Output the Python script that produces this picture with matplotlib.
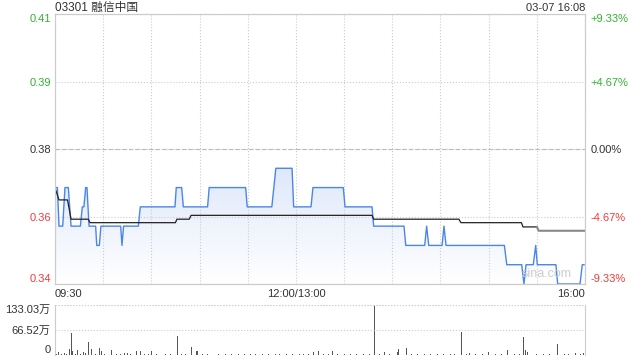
import numpy as np
import matplotlib.pyplot as plt
from matplotlib.colors import LinearSegmentedColormap

plt.rcParams['font.family'] = ['Liberation Sans', 'Noto Sans CJK SC']

# price line (minutes since 09:30, lunch break removed)
price_t = [0, 1.5, 2.5, 4.8, 6.2, 8.3, 10, 15.8, 17, 18, 19.1, 19.9, 21.2, 25.3, 26, 27.6, 28.6,
           40.9, 41.7, 42.7, 51.9, 53.1, 74.7, 75.5, 78.9, 79.9, 95, 96, 118.7, 119.7, 135, 137.5,
           147.6, 148.6, 159.4, 160.6, 179.5, 180.6, 197.4, 198.4, 217.3, 218.4, 230.2, 231.4, 232.7,
           241, 242.2, 243.5, 279.8, 281.3, 290.6, 292, 293.3, 297.8, 299.3, 300.3, 311.9, 313,
           326.9, 328.3, 329.4]
price_v = [0.365, 0.365, 0.355, 0.355, 0.365, 0.365, 0.355, 0.355, 0.36, 0.36, 0.365, 0.365, 0.355,
           0.355, 0.35, 0.35, 0.355, 0.355, 0.35, 0.355, 0.355, 0.36, 0.36, 0.365, 0.365, 0.36,
           0.36, 0.365, 0.365, 0.36, 0.36, 0.37, 0.37, 0.36, 0.36, 0.365, 0.365, 0.36, 0.36, 0.355,
           0.355, 0.35, 0.35, 0.355, 0.35, 0.35, 0.355, 0.35, 0.35, 0.345, 0.345, 0.34, 0.345,
           0.345, 0.35, 0.345, 0.345, 0.34, 0.34, 0.345, 0.345]

# average price line
avg_t = [0, 2.5, 7.8, 10, 20.7, 21.8, 75, 75.9, 83.6, 84.7, 197.4, 198.4, 251.5, 252.7,
         290.4, 291.4, 300]
avg_v = [0.3649, 0.3618, 0.3618, 0.3568, 0.3568, 0.3559, 0.3559, 0.3568, 0.3568, 0.3578,
         0.3578, 0.3568, 0.3568, 0.3559, 0.3559, 0.3548, 0.3548]
avg_late_t = [300, 301.2, 329.4]
avg_late_v = [0.3548, 0.3538, 0.3538]

# volume (万)
vol_t = [0, 2, 9, 10, 11, 14, 18, 21, 23, 28, 29, 33, 35, 45, 51, 53, 60, 76, 85, 88, 89,
         161, 164, 173, 199, 205, 213, 214, 219, 253, 258, 270, 282, 292, 293, 294, 313, 329, 330]
vol_v = [11, 7, 16, 57, 10, 13, 7, 34, 15, 18, 10, 13, 13, 6, 11, 11, 10, 51, 21, 10, 10,
         7, 10, 10, 133.03, 7, 8, 16, 18, 61, 5, 8, 13, 48, 13, 8, 29, 6, 8]
small_t = [1, 4, 6, 7, 13, 16, 19, 25, 31, 38, 41, 43, 47, 56, 58, 63, 66, 69, 72, 79, 81, 92,
           95, 99, 102, 106, 110, 114, 118, 122, 125, 129, 133, 137, 140, 144, 148, 152, 155,
           158, 167, 170, 176, 180, 184, 188, 192, 196, 202, 208, 222, 226, 230, 234, 238, 242,
           246, 249, 256, 262, 266, 274, 278, 286, 289, 297, 300, 304, 308, 317, 320, 324, 327]
small_v = [3, 2, 4, 2, 3, 2, 4, 3, 2, 3, 2, 4, 2, 3, 2, 2, 3, 2, 2, 3, 2, 2, 3, 2, 2, 3, 2,
           2, 3, 2, 2, 2, 3, 2, 2, 2, 3, 2, 2, 3, 2, 3, 2, 2, 3, 2, 2, 3, 2, 2, 3, 2, 2, 3,
           2, 2, 3, 2, 3, 2, 3, 2, 3, 2, 2, 3, 2, 3, 2, 3, 2, 4, 3]

prev_close = 0.375
yticks = [0.34, 0.3575, 0.375, 0.3925, 0.41]
ylabels = ['0.34', '0.36', '0.38', '0.39', '0.41']
pct_labels = ['-9.33%', '-4.67%', '0.00%', '+4.67%', '+9.33%']
tick_colors = ['#f23a3a', '#f23a3a', '#333333', '#2fb52f', '#2fb52f']

grid_c = '#cccccc'
fig = plt.figure(figsize=(6.4, 3.6), dpi=100)
ax = fig.add_axes([55 / 640, 76 / 360, 530 / 640, 270 / 360])

# gradient fill under price
poly = ax.fill_between(price_t, price_v, 0.34, color='none', lw=0)
cmap = LinearSegmentedColormap.from_list('g', ['#ffffff', '#dfe8fa'])
grad = np.linspace(0, 1, 256).reshape(-1, 1)
img = ax.imshow(grad, extent=[0, 330, 0.34, 0.37], origin='lower', aspect='auto', cmap=cmap, zorder=1)
img.set_clip_path(poly.get_paths()[0], transform=ax.transData)

ax.plot(price_t, price_v, color='#4a86e8', lw=1, zorder=3)
ax.plot(avg_t, avg_v, color='#222222', lw=0.9, zorder=3)
ax.plot(avg_late_t, avg_late_v, color='#888888', lw=1.5, zorder=3)

ax.set_xlim(0, 330)
ax.set_ylim(0.34, 0.41)
ax.set_xticks(np.arange(0, 331, 30))
ax.set_xticklabels([])
ax.set_yticks(yticks)
ax.set_yticklabels(ylabels)
ax.tick_params(length=0, labelsize=8, pad=3)
for lab, c in zip(ax.get_yticklabels(), tick_colors):
    lab.set_color(c)
ax.get_yticklabels()[0].set_va('bottom')
ax.get_yticklabels()[-1].set_va('top')
ax.grid(True, color=grid_c, ls=':', lw=0.8)
ax.axhline(prev_close, color='#bbbbbb', ls=(0, (4, 2)), lw=0.8, zorder=2)
for s in ax.spines.values():
    s.set_color(grid_c)

ax_r = ax.twinx()
ax_r.set_ylim(0.34, 0.41)
ax_r.set_yticks(yticks)
ax_r.set_yticklabels(pct_labels)
ax_r.tick_params(length=0, labelsize=8, pad=4)
for lab, c in zip(ax_r.get_yticklabels(), tick_colors):
    lab.set_color(c)
ax_r.get_yticklabels()[0].set_va('bottom')
ax_r.get_yticklabels()[-1].set_va('top')
for s in ax_r.spines.values():
    s.set_color(grid_c)

ax.text(0, -0.02, '09:30', transform=ax.transAxes, ha='left', va='top', fontsize=8, color='#333')
ax.text(150 / 330, -0.02, '12:00/13:00', transform=ax.transAxes, ha='center', va='top', fontsize=8, color='#333')
ax.text(1, -0.02, '16:00', transform=ax.transAxes, ha='right', va='top', fontsize=8, color='#333')
ax.text(0, 1 + 3 / 270, '03301 融信中国', transform=ax.transAxes, ha='left', va='baseline',
        fontsize=8.5, color='#333')
ax.text(1, 1 + 3 / 270, '03-07 16:08', transform=ax.transAxes, ha='right', va='baseline',
        fontsize=8, color='#333')
ax.text(0.975, 0.015, 'sina.com', transform=ax.transAxes, ha='right', va='bottom', fontsize=9,
        color='#cccccc', zorder=4)

# volume panel
axv = fig.add_axes([55 / 640, 5 / 360, 530 / 640, 50.3 / 360])
axv.bar(vol_t + small_t, vol_v + small_v, width=0.6, color='#555555', lw=0)
axv.set_xlim(0, 330)
axv.set_ylim(0, 133.03)
axv.set_xticks([])
axv.set_yticks([0, 66.52, 133.03])
axv.set_yticklabels(['0', '66.52万', '133.03万'])
axv.tick_params(length=0, labelsize=8, pad=3, labelcolor='#333')
axv.get_yticklabels()[0].set_va('bottom')
axv.get_yticklabels()[-1].set_va('top')
axv.yaxis.grid(True, color=grid_c, ls=':', lw=0.8)
axv.spines['top'].set_visible(False)
axv.spines['bottom'].set_visible(False)
axv.spines['left'].set_color(grid_c)
axv.spines['right'].set_color(grid_c)
axv.axhline(133.03, color=grid_c, ls=':', lw=0.8)

fig.savefig('out.png', dpi=100)
